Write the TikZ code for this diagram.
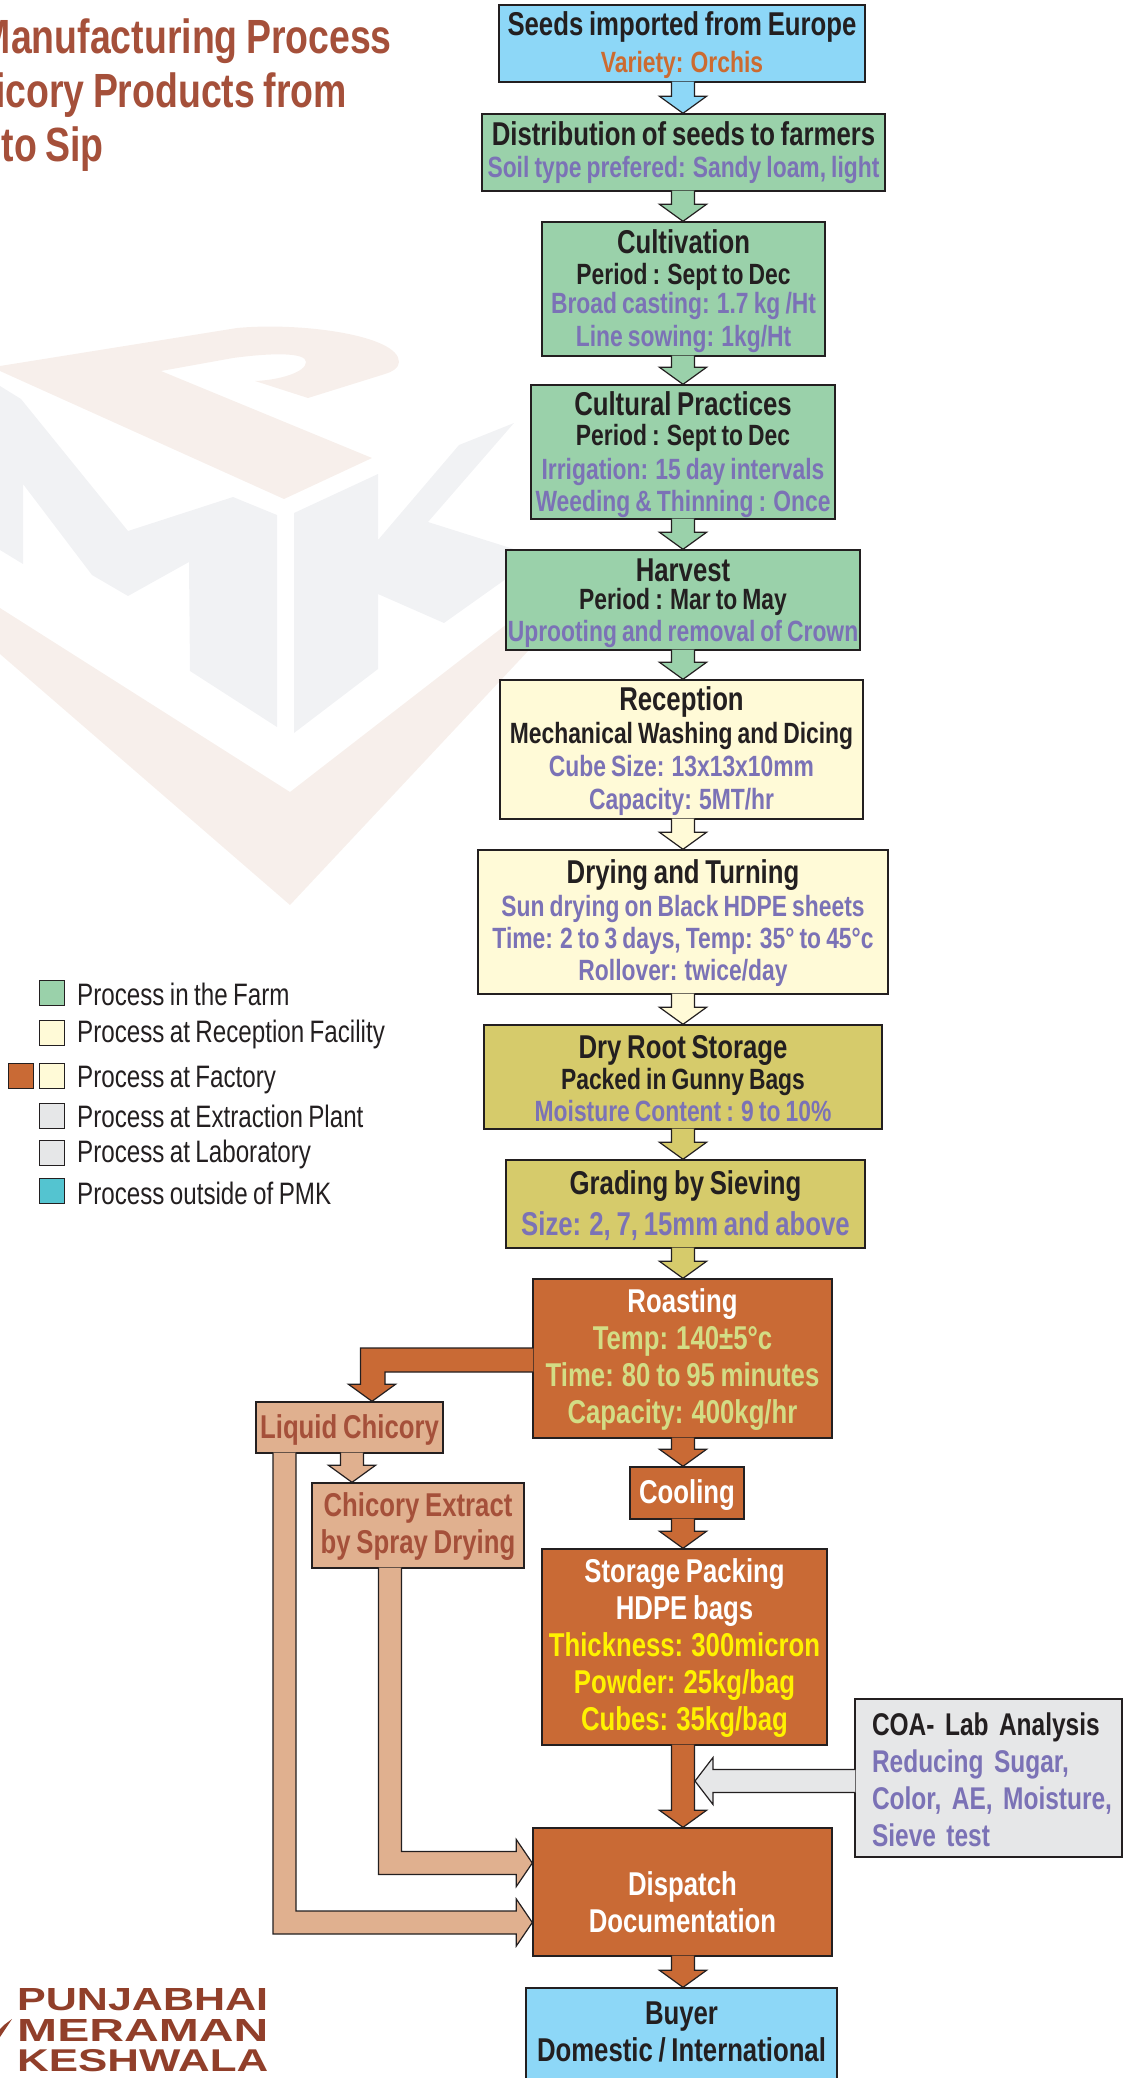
\documentclass[tikz,border=0pt]{standalone}
\usepackage{fontspec}
\usepackage{graphicx}
\setmainfont{Liberation Sans}[FakeStretch=0.78,WordSpace=0.8]
\usetikzlibrary{calc}
\definecolor{linecol}{HTML}{231F20}
\definecolor{skyfill}{HTML}{8DD7F7}
\definecolor{farmfill}{HTML}{9AD1AA}
\definecolor{creamfill}{HTML}{FFFAD7}
\definecolor{khakifill}{HTML}{D6CB6B}
\definecolor{rustfill}{HTML}{C96A35}
\definecolor{tanfill}{HTML}{E0B08F}
\definecolor{labfill}{HTML}{E6E7E8}
\definecolor{tealfill}{HTML}{54C4D0}
\definecolor{brownink}{HTML}{A5503A}
\definecolor{logoink}{HTML}{913F2A}
\definecolor{purpleink}{HTML}{7B72B6}
\definecolor{orangeink}{HTML}{CC6B30}
\definecolor{limeink}{HTML}{D3DD85}
\definecolor{yellowink}{HTML}{FFF200}
\definecolor{markpink}{HTML}{F7EFEB}
\definecolor{markgray}{HTML}{F1F2F4}
\tikzset{
	flowbox/.style={draw=linecol, line width=1.4pt, inner sep=0pt, align=center, text=linecol, font=\bfseries\fontsize{29.3}{32}\selectfont},
	legendbox/.style={draw=linecol, line width=1pt, minimum width=25, minimum height=25, inner sep=0pt},
	legendtext/.style={anchor=west, inner sep=0pt, text=linecol, font=\fontsize{31}{32}\selectfont},
	titletext/.style={anchor=base east, inner sep=0pt, text=brownink, font=\bfseries\fontsize{48}{50}\selectfont},
	logotext/.style={anchor=base west, inner sep=0pt, text=logoink, font=\bfseries},
}
\newcommand{\headline}[1]{{\fontsize{33}{32}\selectfont #1}}
\newcommand{\ink}[2]{\textcolor{#1}{#2}}
\newcommand{\toppad}[1]{\rule{0pt}{#1pt}}
\newcommand{\lowpad}[1]{\rule[-#1pt]{0pt}{1pt}}
% block arrow straight down along a named axis
\def\flowdown[#1](#2)(#3)(#4){\draw[draw=linecol, line width=1.2pt, fill=#1, line join=miter] ($(#4 |- #2.south)+(-11.5,-1)$) -- ($(#4 |- #3.north)+(-11.5,-17)$) -- ($(#4 |- #3.north)+(-23.5,-17)$) -- (#4 |- #3.north) -- ($(#4 |- #3.north)+(23.5,-17)$) -- ($(#4 |- #3.north)+(11.5,-17)$) -- ($(#4 |- #2.south)+(11.5,-1)$);}
% block arrow down then right into the west side of a box
\def\flowelbow[#1](#2)(#3)(#4){\draw[draw=linecol, line width=1.2pt, fill=#1] ($(#4 |- #2.south)+(-11.5,-1)$) -- ($(#4)+(-11.5,11.5)$) -- ($(#3.west |- #4)+(-16,11.5)$) -- ($(#3.west |- #4)+(-16,23.5)$) -- (#3.west |- #4) -- ($(#3.west |- #4)+(-16,-23.5)$) -- ($(#3.west |- #4)+(-16,-11.5)$) -- ($(#4)+(11.5,-11.5)$) -- ($(#4 |- #2.south)+(11.5,-1)$);}

\begin{document}
\begin{tikzpicture}[x=1pt, y=-1pt]
			\useasboundingbox (0,0) rectangle (1123,2078);
			%%%%% WATERMARK %%%%%
			\fill[markpink] (0,366) -- (237,328) .. controls (300,322) and (399,335) .. (399,362) .. controls (399,368) and (392,372) .. (385,374) -- (308,398) -- (255,381) .. controls (280,380) and (306,372) .. (306,362) .. controls (306,352) and (270,353) .. (233,358) -- (161,371) -- (372,458) -- (284,499) -- (0,371) -- cycle;
			\fill[markgray] (0,386) -- (21,399) -- (128,531) -- (233,497) -- (277,515) -- (277,727) -- (190,671) -- (189,562) -- (128,596) -- (92,575) -- (23,484) -- (23,564) -- (0,550) -- cycle;
			\fill[markgray] (294,513) -- (378,474) -- (378,540) -- (459,445) -- (514,423) -- (428,522) -- (520,551) -- (520,569) -- (444,623) -- (378,594) -- (378,669) -- (294,733) -- cycle;
			\fill[markpink] (0,608) -- (290,792) -- (525,610) -- (529,650) -- (290,905) -- (0,654) -- cycle;
			
			%%%%% TITLE %%%%%
			\node[titletext] (titleone) at (392,53) {Manufacturing Process};
			\node[titletext] (titletwo) at (347,107) {icory Products from};
			\node[titletext] (titlethree) at (104,161) {to Sip};
			
			%%%%% LEGEND %%%%%
			\node[legendbox, fill=farmfill] (keyfarm) at (51.5,992.5) {};
			\node[legendbox, fill=creamfill] (keyreception) at (51.5,1032.5) {};
			\node[legendbox, fill=rustfill] (keyrust) at (21,1076) {};
			\node[legendbox, fill=creamfill] (keyfactory) at (51.5,1076) {};
			\node[legendbox, fill=labfill] (keyplant) at (51.5,1115.5) {};
			\node[legendbox, fill=labfill] (keylab) at (51.5,1152.5) {};
			\node[legendbox, fill=tealfill] (keyoutside) at (51.5,1191) {};
			\node[legendtext] (textfarm) at (77,994.5) {Process in the Farm};
			\node[legendtext] (textreception) at (77,1034.5) {Process at Reception Facility};
			\node[legendtext] (textfactory) at (77,1080.5) {Process at Factory};
			\node[legendtext] (textplant) at (77,1116.5) {Process at Extraction Plant};
			\node[legendtext] (textlab) at (77,1154.5) {Process at Laboratory};
			\node[legendtext] (textoutside) at (77,1193) {Process outside of PMK};
			
			%%%%% BOXES %%%%%
			\coordinate (axis) at (683,0);
			\coordinate (liquidaxis) at (352,0);
			\coordinate (sideaxis) at (372,0);
			\node[flowbox, fill=skyfill, minimum width=366, minimum height=77] (seeds) at (682,43.5) {\toppad{27}\headline{Seeds imported from Europe}\\[5pt]\ink{orangeink}{Variety: Orchis}};
			\node[flowbox, fill=farmfill, minimum width=403, minimum height=77] (distribution) at (683.5,152.5) {\toppad{25}\headline{Distribution of seeds to farmers}\\\ink{purpleink}{Soil type prefered: Sandy loam, light}};
			\node[flowbox, fill=farmfill, minimum width=283, minimum height=134] (cultivation) at (683.5,289) {\toppad{29}\headline{Cultivation}\\[-1pt]Period : Sept to Dec\\[-3pt]\ink{purpleink}{Broad casting: 1.7 kg /Ht}\\[1pt]\ink{purpleink}{Line sowing: 1kg/Ht}};
			\node[flowbox, fill=farmfill, minimum width=304, minimum height=134] (cultural) at (683,452) {\toppad{29}\headline{Cultural Practices}\\[-1.5pt]Period : Sept to Dec\\[2pt]\ink{purpleink}{Irrigation: 15 day intervals}\\\ink{purpleink}{Weeding \& Thinning : Once}};
			\node[flowbox, fill=farmfill, minimum width=354, minimum height=100] (harvest) at (683,600) {\toppad{29}\headline{Harvest}\\[-4pt]Period : Mar to May\\\ink{purpleink}{Uprooting and removal of Crown}};
			\node[flowbox, fill=creamfill, minimum width=363, minimum height=139] (reception) at (681.5,749.5) {\toppad{27}\headline{Reception}\\[1pt]Mechanical Washing and Dicing\\[1pt]\ink{purpleink}{Cube Size: 13x13x10mm}\\[1pt]\ink{purpleink}{Capacity: 5MT/hr}};
			\node[flowbox, fill=creamfill, minimum width=410, minimum height=144] (drying) at (683,922) {\toppad{27}\headline{Drying and Turning}\\[1pt]\ink{purpleink}{Sun drying on Black HDPE sheets}\\\ink{purpleink}{Time: 2 to 3 days, Temp: 35° to 45°c}\\\ink{purpleink}{Rollover: twice/day}};
			\node[flowbox, fill=khakifill, minimum width=398, minimum height=104] (dryroot) at (683,1077) {\toppad{27}\headline{Dry Root Storage}\\[-1pt]Packed in Gunny Bags\\\ink{purpleink}{Moisture Content : 9 to 10\%}};
			\node[flowbox, fill=khakifill, minimum width=359, minimum height=88] (grading) at (685.5,1204) {\toppad{28}\headline{Grading by Sieving}\\[9pt]\headline{\ink{purpleink}{Size: 2, 7, 15mm and above}}};
			\node[flowbox, fill=rustfill, minimum width=299, minimum height=159, text=white] (roasting) at (682.5,1358.5) {\toppad{26}\headline{Roasting}\\[5pt]\headline{\ink{limeink}{Temp: 140±5°c}}\\[5pt]\headline{\ink{limeink}{Time: 80 to 95 minutes}}\\[5pt]\headline{\ink{limeink}{Capacity: 400kg/hr}}};
			\node[flowbox, fill=rustfill, minimum width=114, minimum height=52, text=white] (cooling) at (687,1493) {\toppad{28}\headline{Cooling}};
			\node[flowbox, fill=rustfill, minimum width=285, minimum height=196, text=white] (storage) at (684.5,1647) {\toppad{26}\headline{Storage Packing}\\[5pt]\headline{HDPE bags}\\[5pt]\headline{\ink{yellowink}{Thickness: 300micron}}\\[5pt]\headline{\ink{yellowink}{Powder: 25kg/bag}}\\[5pt]\headline{\ink{yellowink}{Cubes: 35kg/bag}}};
			\node[flowbox, fill=rustfill, minimum width=299, minimum height=128, text=white] (dispatch) at (682.5,1892) {\toppad{44}\headline{Dispatch}\\[5pt]\headline{Documentation}};
			\node[flowbox, fill=skyfill, minimum width=311, minimum height=94] (buyer) at (681.5,2035) {\headline{Buyer}\\[5pt]\headline{Domestic / International}\lowpad{6}};
			\node[flowbox, fill=tanfill, minimum width=187, minimum height=51, text=brownink] (liquid) at (349.5,1427.5) {\toppad{28}\headline{Liquid Chicory}};
			\node[flowbox, fill=tanfill, minimum width=212, minimum height=85, text=brownink] (extract) at (418,1525.5) {\toppad{26}\headline{Chicory Extract}\\[5pt]\headline{by Spray Drying}};
			\node[flowbox, fill=labfill, minimum width=267, minimum height=158, align=left, text width=233, font=\bfseries\fontsize{31.4}{32}\selectfont] (coa) at (988.5,1778) {\mbox{\toppad{26}COA- Lab Analysis}\\[5pt]\mbox{\ink{purpleink}{Reducing Sugar,}}\\[5pt]\mbox{\ink{purpleink}{Color, AE, Moisture,}}\\[5pt]\mbox{\ink{purpleink}{Sieve test}}};
			
			%%%%% ARROWS %%%%%
			\flowdown[skyfill](seeds)(distribution)(axis)
			\flowdown[farmfill](distribution)(cultivation)(axis)
			\flowdown[farmfill](cultivation)(cultural)(axis)
			\flowdown[farmfill](cultural)(harvest)(axis)
			\flowdown[farmfill](harvest)(reception)(axis)
			\flowdown[creamfill](reception)(drying)(axis)
			\flowdown[creamfill](drying)(dryroot)(axis)
			\flowdown[khakifill](dryroot)(grading)(axis)
			\flowdown[khakifill](grading)(roasting)(axis)
			\flowdown[rustfill](roasting)(cooling)(axis)
			\flowdown[rustfill](cooling)(storage)(axis)
			\flowdown[rustfill](storage)(dispatch)(axis)
			\flowdown[rustfill](dispatch)(buyer)(axis)
			\flowdown[tanfill](liquid)(extract)(liquidaxis)
			% roasting side branch
			\draw[draw=linecol, line width=1.2pt, fill=rustfill] ($(roasting.west)+(1,-10.5)$) -- ($(sideaxis |- roasting.west)+(-11.5,-10.5)$) -- ($(sideaxis |- liquid.north)+(-11.5,-17)$) -- ($(sideaxis |- liquid.north)+(-23.5,-17)$) -- (sideaxis |- liquid.north) -- ($(sideaxis |- liquid.north)+(23.5,-17)$) -- ($(sideaxis |- liquid.north)+(13,-17)$) -- ($(sideaxis |- roasting.west)+(13,13.5)$) -- ($(roasting.west)+(1,13.5)$);
			% long returns to dispatch
			\coordinate (extractleg) at (390,1863);
			\coordinate (liquidleg) at (284.5,1922.5);
			\flowelbow[tanfill](extract)(dispatch)(extractleg)
			\flowelbow[tanfill](liquid)(dispatch)(liquidleg)
			% lab report into the packing line
			\coordinate (coatip) at (695,1781);
			\draw[draw=linecol, line width=1.2pt, fill=labfill] ($(coa.west |- coatip)+(1,-11.5)$) -- ($(coatip)+(18,-11.5)$) -- ($(coatip)+(18,-23.5)$) -- (coatip) -- ($(coatip)+(18,23.5)$) -- ($(coatip)+(18,11.5)$) -- ($(coa.west |- coatip)+(1,11.5)$);
			
			%%%%% LOGO %%%%%
			\fill[logoink] (12,2019) -- (0,2037) -- (0,2029) -- (4,2025) -- cycle;
			\node[logotext] (logoone) at (17,2010) {\resizebox{251pt}{22pt}{PUNJABHAI}};
			\node[logotext] (logotwo) at (17,2041) {\resizebox{251pt}{22pt}{MERAMAN}};
			\node[logotext] (logothree) at (17,2071) {\resizebox{251pt}{22pt}{KESHWALA}};
		\end{tikzpicture}
\end{document}
